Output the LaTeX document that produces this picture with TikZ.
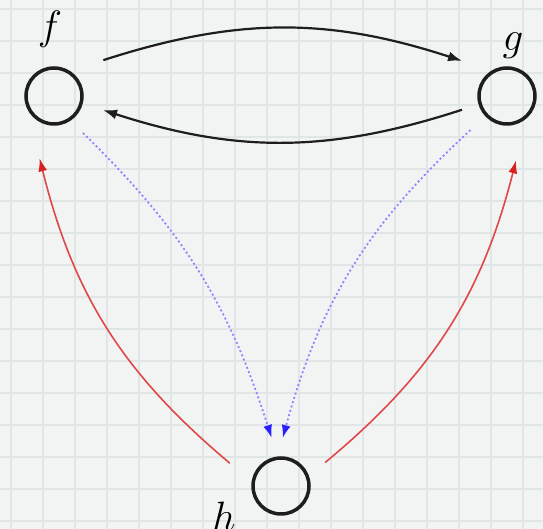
\documentclass[tikz,border=0pt]{standalone}
\usetikzlibrary{arrows.meta,calc}
\definecolor{bgc}{HTML}{F2F4F4}
\definecolor{gridc}{HTML}{E0E5E5}
\definecolor{blk}{HTML}{1E1E1E}
\definecolor{blueline}{HTML}{8E86FF}
\definecolor{bluetip}{HTML}{2A20FF}
\definecolor{redline}{HTML}{E04848}
\definecolor{redtip}{HTML}{D82020}
\begin{document}
\begin{tikzpicture}[x=1pt,y=1pt,
  vert/.style={circle,draw=blk,line width=3.5pt,minimum size=56pt,inner sep=0pt},
  lbl/.style={anchor=base,inner sep=0pt,font=\fontsize{24.88}{30}\selectfont,scale=1.65},
  blackarrow/.style={draw=blk,line width=2.2pt,-{Latex[length=14pt,width=10pt]}},
  bluearrow/.style={draw=blueline,line width=1.8pt,dash pattern=on 2pt off 2.5pt,-{Latex[length=13pt,width=9pt,color=bluetip]}},
  redarrow/.style={draw=redline,line width=1.6pt,-{Latex[length=13pt,width=9pt,color=redtip]}}]
  \fill[bgc] (0,0) rectangle (543,529);
  \useasboundingbox (0,0) rectangle (543,529);
  \begin{scope}[gridc,line width=1.2pt]
    \foreach \x in {11,43,...,543} \draw (\x,0) -- (\x,529);
    \foreach \y in {8,40,...,529} \draw (0,\y) -- (543,\y);
  \end{scope}
  \node[vert] (f) at (54,433) {};
  \node[vert] (g) at (507,433) {};
  \node[vert] (h) at (281,43) {};
  \node[lbl] (lf) at (50,489) {$f$};
  \node[lbl] (lg) at (513,478) {$g$};
  \node[lbl] (lh) at (224,-2) {$h$};
  \draw[blackarrow] ($(f)+(36:61)$) to[bend left=18] ($(g)+(142:57)$);
  \draw[blackarrow] ($(g)+(197:47)$) to[bend left=18] ($(f)+(-16:51)$);
  \draw[redarrow] ($(h)+(156:56)$) to[bend left=18] ($(f)+(257:64)$);
  \draw[redarrow] ($(h)+(28:50)$) to[bend right=18] ($(g)+(278:65)$);
  \draw[bluearrow] ($(f)+(308:47)$) to[bend left=14] ($(h)+(101:49)$);
  \draw[bluearrow] ($(g)+(223:50)$) to[bend right=16] ($(h)+(88:48)$);
\end{tikzpicture}
\end{document}
